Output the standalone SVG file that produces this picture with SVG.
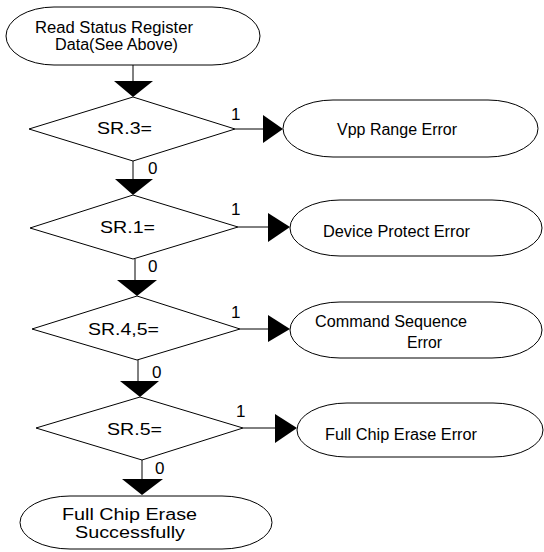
<svg xmlns="http://www.w3.org/2000/svg" width="544" height="552" viewBox="0 0 544 552">
  <style>
    .shape { fill: #ffffff; stroke: #000000; stroke-width: 1; }
    .wire { fill: none; stroke: #000000; stroke-width: 1; }
    .head { fill: #000000; stroke: none; }
    text { font-family: "Liberation Sans", Arial, sans-serif; font-size: 16px; fill: #000000; }
    .cond { font-size: 17px; }
    .num { font-size: 17px; }
  </style>
  <rect width="544" height="552" fill="#ffffff"/>

  <!-- flow connectors -->
  <g id="connectors">
    <!-- vertical "0" branches -->
    <line class="wire" x1="133" y1="65" x2="133" y2="81"/>
    <polygon class="head" points="114,81 153,81 133,97"/>
    <line class="wire" x1="133" y1="161" x2="133" y2="179"/>
    <polygon class="head" points="115,179 153,179 133,195"/>
    <line class="wire" x1="135" y1="259" x2="135" y2="280"/>
    <polygon class="head" points="117,280 157,280 137,296"/>
    <line class="wire" x1="138" y1="360" x2="138" y2="381"/>
    <polygon class="head" points="120,381 159,381 140,397"/>
    <line class="wire" x1="142" y1="460" x2="142" y2="479"/>
    <polygon class="head" points="122,479 163,479 142,495"/>
    <!-- horizontal "1" branches -->
    <line class="wire" x1="235" y1="129" x2="263" y2="129"/>
    <polygon class="head" points="263,115 263,143 283,129"/>
    <line class="wire" x1="238" y1="227" x2="268" y2="227"/>
    <polygon class="head" points="268,213 268,242 290,227"/>
    <line class="wire" x1="240" y1="329" x2="268" y2="329"/>
    <polygon class="head" points="268,315 268,342 290,329"/>
    <line class="wire" x1="243" y1="428" x2="275" y2="428"/>
    <polygon class="head" points="275,414 275,443 297,428"/>
    <!-- branch labels -->
    <text class="num" x="231" y="120">1</text>
    <text class="num" x="148" y="174">0</text>
    <text class="num" x="231" y="215">1</text>
    <text class="num" x="148" y="272">0</text>
    <text class="num" x="231" y="318">1</text>
    <text class="num" x="152" y="378">0</text>
    <text class="num" x="236" y="417">1</text>
    <text class="num" x="155" y="474">0</text>
  </g>

  <g id="start">
    <rect class="shape" x="6" y="7" width="254" height="58" rx="48" ry="29"/>
    <text x="35" y="33" textLength="158" lengthAdjust="spacingAndGlyphs">Read Status Register</text>
    <text x="55" y="50" textLength="123" lengthAdjust="spacingAndGlyphs">Data(See Above)</text>
  </g>

  <g id="check-sr3">
    <polygon class="shape" points="133,97 235,129 133,161 29,129"/>
    <text class="cond" x="97" y="134" textLength="55" lengthAdjust="spacingAndGlyphs">SR.3=</text>
  </g>

  <g id="check-sr1">
    <polygon class="shape" points="133,195 238,227 133,259 30,228"/>
    <text class="cond" x="100" y="233" textLength="55" lengthAdjust="spacingAndGlyphs">SR.1=</text>
  </g>

  <g id="check-sr45">
    <polygon class="shape" points="137,296 240,329 137,360 32,329"/>
    <text class="cond" x="88" y="335" textLength="71" lengthAdjust="spacingAndGlyphs">SR.4,5=</text>
  </g>

  <g id="check-sr5">
    <polygon class="shape" points="140,397 243,428 142,460 36,428"/>
    <text class="cond" x="107" y="435" textLength="55" lengthAdjust="spacingAndGlyphs">SR.5=</text>
  </g>

  <g id="vpp-error">
    <rect class="shape" x="283" y="100" width="255" height="57" rx="50" ry="28.5"/>
    <text x="337" y="135" textLength="120" lengthAdjust="spacingAndGlyphs">Vpp Range Error</text>
  </g>

  <g id="protect-error">
    <rect class="shape" x="290" y="200" width="252" height="56" rx="50" ry="28"/>
    <text x="323" y="237" textLength="147" lengthAdjust="spacingAndGlyphs">Device Protect Error</text>
  </g>

  <g id="sequence-error">
    <rect class="shape" x="290" y="302" width="252" height="56" rx="50" ry="28"/>
    <text x="315" y="327" textLength="152" lengthAdjust="spacingAndGlyphs">Command Sequence</text>
    <text x="407" y="348" textLength="35" lengthAdjust="spacingAndGlyphs">Error</text>
  </g>

  <g id="erase-error">
    <rect class="shape" x="297" y="403" width="246" height="54" rx="50" ry="27"/>
    <text x="325" y="440" textLength="152" lengthAdjust="spacingAndGlyphs">Full Chip Erase Error</text>
  </g>

  <g id="done">
    <rect class="shape" x="20" y="496" width="252" height="53" rx="50" ry="26.5"/>
    <text x="62" y="520" textLength="135" lengthAdjust="spacingAndGlyphs">Full Chip Erase</text>
    <text x="75" y="538" textLength="110" lengthAdjust="spacingAndGlyphs">Successfully</text>
  </g>
</svg>
